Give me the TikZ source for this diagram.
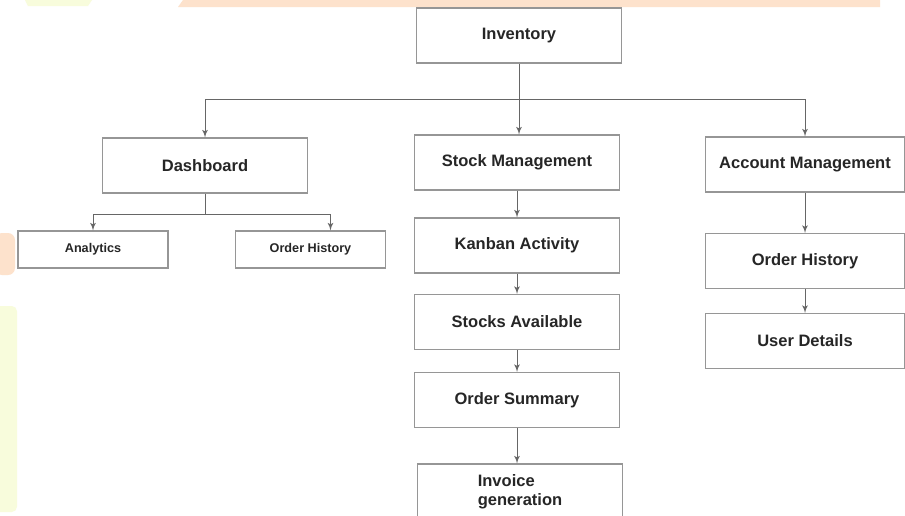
\documentclass[tikz,border=0pt]{standalone}
\usepackage{fontspec}
\setmainfont{Liberation Sans}
\usetikzlibrary{shapes,arrows}
\definecolor{peach}{RGB}{253,226,204}
\definecolor{paleyellow}{RGB}{248,252,220}
\definecolor{boxgray}{RGB}{150,150,150}
\tikzstyle{block} = [rectangle, draw=boxgray, line width=0.6pt, text=black!85,
    font=\bfseries\fontsize{9.4}{11}\selectfont, minimum width=4.1cm, minimum height=1.1cm]
\tikzstyle{smallblock} = [block, font=\bfseries\fontsize{7.2}{9}\selectfont,
    minimum width=3cm, minimum height=0.74cm]
\tikzstyle{line} = [draw, draw=black!60, line width=0.5pt, -latex']

\begin{document}
\begin{tikzpicture}[x=0.02cm, y=-0.02cm]
	\clip (0,0) rectangle (905,515);
	\fill[white] (0,0) rectangle (905,515);

	% watermark bits
	\fill[peach] (183,0) -- (880,0) -- (880,7) -- (178,7) -- cycle;
	\fill[paleyellow] (25,0) -- (92,0) -- (88,6) -- (28,6) -- cycle;
	\fill[peach, rounded corners=4pt] (-5,233) rectangle (15,275);
	\fill[paleyellow, rounded corners=3pt] (-5,306) rectangle (17,512);

	\node [block] (inventory) at (519,35.5) {Inventory};

	\node [block] (dashboard) at (205,165.5) {Dashboard};
	\node [block] (stock) at (517,162.5) {Stock Management};
	\node [block, minimum width=4cm] (account) at (805,164.5) {Account Management};

	\node [smallblock] (analytics) at (93,249.5) {Analytics};
	\node [smallblock] (dashhistory) at (310.5,249.5) {Order History};

	\node [block] (kanban) at (517,245.5) {Kanban Activity};
	\node [block] (available) at (517,322) {Stocks Available};
	\node [block] (summary) at (517,400) {Order Summary};
	\node [block, align=left] (invoice) at (520,491.5) {Invoice\\generation};

	\node [block, minimum width=4cm] (accthistory) at (805,261) {Order History};
	\node [block, minimum width=4cm] (userdetails) at (805,341) {User Details};

	\coordinate (bus) at (519,99);
	\path [line] (inventory.south) -- (bus) -| (dashboard.north);
	\path [line] (bus) -| (account.north);
	\path [line] (bus) -- (bus |- stock.north);

	\path [line] (dashboard.south) -- ++(0,21) coordinate (dashbus) -| (analytics.north);
	\path [line] (dashbus) -| ([xshift=0.4cm]dashhistory.north);

	\path [line] (stock) -- (kanban);
	\path [line] (kanban) -- (available);
	\path [line] (available) -- (summary);
	\path [line] (summary) -- (summary |- invoice.north);

	\path [line] (account) -- (accthistory);
	\path [line] (accthistory) -- (userdetails);
\end{tikzpicture}
\end{document}
